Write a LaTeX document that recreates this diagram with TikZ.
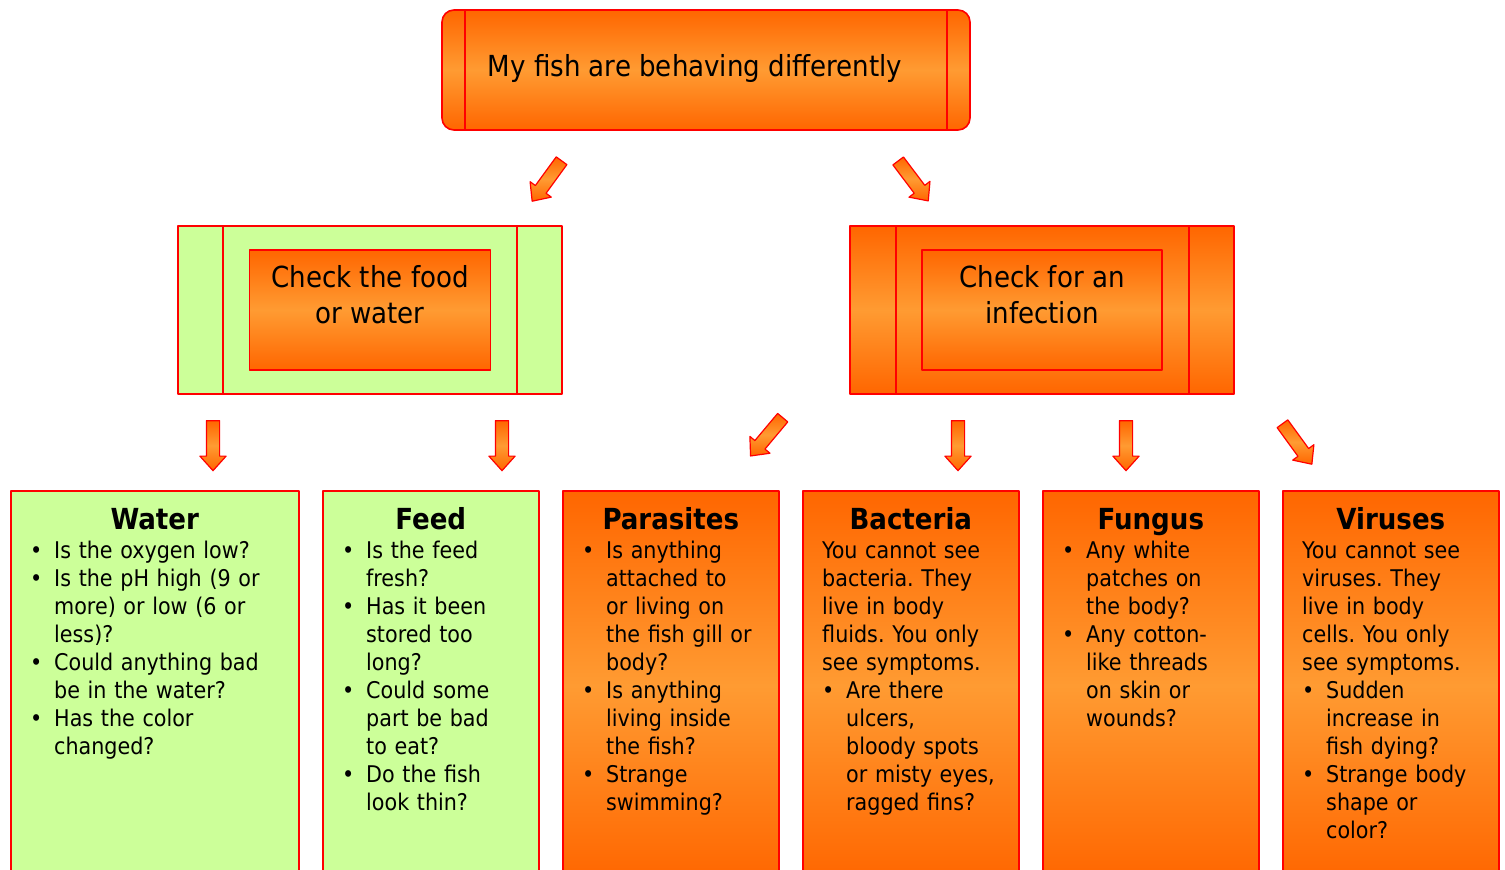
\documentclass[tikz,border=0pt]{standalone}
\usepackage{fontspec}
\setmainfont{DejaVu Sans Condensed}
\usetikzlibrary{shapes.arrows,calc}
\definecolor{deeporange}{RGB}{255,102,0}
\definecolor{lightorange}{RGB}{255,155,50}
\definecolor{leafgreen}{RGB}{204,255,153}
\frenchspacing
\newcommand{\nextline}{\newline}
\newcommand{\bul}[1]{\hangindent=24pt\hangafter=1\strut\makebox[24pt][l]{\textbullet}#1\par}

\begin{document}
\begin{tikzpicture}[x=1pt, y=-1pt, line join=round, font=\fontsize{23}{28}\selectfont]
	\tikzset{
		redline/.style={draw=red, line width=1.6pt},
		orangebox/.style={redline, top color=deeporange, bottom color=deeporange, middle color=lightorange},
		greenbox/.style={redline, fill=leafgreen},
		blockarrow/.style={single arrow, draw=red, line width=1.2pt, top color=deeporange, bottom color=deeporange, middle color=lightorange, minimum height=50pt, single arrow head extend=6.5pt, single arrow tip angle=84, inner xsep=0pt, inner ysep=6pt},
		heading/.style={anchor=base, font=\fontsize{29}{34}\selectfont\bfseries, inner sep=0pt},
		midtext/.style={align=center, inner sep=0pt, font=\fontsize{29}{36}\selectfont},
		body/.style={anchor=north west, inner sep=0pt, text width=260pt, align=left, font=\fontsize{23}{28}\selectfont\setlength\parindent{0pt}}
	}
	\useasboundingbox (0,0) rectangle (1505,870);
	\clip (0,0) rectangle (1505,870);

	% top question
	\node[orangebox, rounded corners=12pt, minimum width=528pt, minimum height=120pt] (fish) at (706,70) {};
	\draw[redline] ($(fish.north west)+(24,0)$) -- ($(fish.south west)+(24,0)$);
	\draw[redline] ($(fish.north east)+(-24,0)$) -- ($(fish.south east)+(-24,0)$);
	\node[midtext, font=\fontsize{29}{34}\selectfont] (fishtxt) at ($(fish.center)+(-11,-2)$) {My fish are behaving differently};

	% food or water
	\node[greenbox, minimum width=384pt, minimum height=168pt] (food) at (370,310) {};
	\draw[redline] ($(food.north west)+(46,0)$) -- ($(food.south west)+(46,0)$);
	\draw[redline] ($(food.north east)+(-46,0)$) -- ($(food.south east)+(-46,0)$);
	\node[orangebox, minimum width=241pt, minimum height=120pt] (foodin) at (food) {};
	\node[midtext] (foodtxt) at ($(foodin.center)+(0,-15)$) {Check the food\\or water};

	% infection
	\node[orangebox, minimum width=384pt, minimum height=168pt] (infect) at (1042,310) {};
	\draw[redline] ($(infect.north west)+(47,0)$) -- ($(infect.south west)+(47,0)$);
	\draw[redline] ($(infect.north east)+(-46,0)$) -- ($(infect.south east)+(-46,0)$);
	\node[orangebox, minimum width=240pt, minimum height=120pt] (infectin) at (infect) {};
	\node[midtext] (infecttxt) at ($(infectin.center)+(0,-15)$) {Check for an\\infection};

	% block arrows
	\node[blockarrow, rotate=-126] (a1) at (549,178) {};
	\node[blockarrow, rotate=-53] (a2) at (911,178) {};
	\node[blockarrow, rotate=-90] (a3) at (213,442) {};
	\node[blockarrow, rotate=-90] (a4) at (502,442) {};
	\node[blockarrow, rotate=-130] (a5) at (769,434) {};
	\node[blockarrow, rotate=-90] (a6) at (958,442) {};
	\node[blockarrow, rotate=-90] (a7) at (1126,442) {};
	\node[blockarrow, rotate=-54] (a8) at (1295,441) {};

	% water
	\node[greenbox, minimum width=288pt, minimum height=390pt, anchor=north west] (water) at (10,490) {};
	\node[heading] (watertitle) at ($(water.north)+(0,39)$) {Water};
	\node[body] (watertext) at ($(water.north west)+(20,49)$) {\bul{Is the oxygen low?}
		\bul{Is the pH high (9 or\nextline more) or low (6 or\nextline less)?}
		\bul{Could anything bad\nextline be in the water?}
		\bul{Has the color\nextline changed?}};

	% feed
	\node[greenbox, minimum width=216pt, minimum height=390pt, anchor=north west] (feed) at (322,490) {};
	\node[heading] (feedtitle) at ($(feed.north)+(0,39)$) {Feed};
	\node[body] (feedtext) at ($(feed.north west)+(20,49)$) {\bul{Is the feed\nextline fresh?}
		\bul{Has it been\nextline stored too\nextline long?}
		\bul{Could some\nextline part be bad\nextline to eat?}
		\bul{Do the fish\nextline look thin?}};

	% parasites
	\node[orangebox, minimum width=216pt, minimum height=390pt, anchor=north west] (parasite) at (562,490) {};
	\node[heading] (parasitetitle) at ($(parasite.north)+(0,39)$) {Parasites};
	\node[body] (parasitetext) at ($(parasite.north west)+(20,49)$) {\bul{Is anything\nextline attached to\nextline or living on\nextline the fish gill or\nextline body?}
		\bul{Is anything\nextline living inside\nextline the fish?}
		\bul{Strange\nextline swimming?}};

	% bacteria
	\node[orangebox, minimum width=216pt, minimum height=390pt, anchor=north west] (bact) at (802,490) {};
	\node[heading] (bacttitle) at ($(bact.north)+(0,39)$) {Bacteria};
	\node[body] (bacttext) at ($(bact.north west)+(20,49)$) {\strut You cannot see\nextline bacteria. They\nextline live in body\nextline fluids. You only\nextline see symptoms.\par
		\bul{Are there\nextline ulcers,\nextline bloody spots\nextline or misty eyes,\nextline ragged fins?}};

	% fungus
	\node[orangebox, minimum width=216pt, minimum height=390pt, anchor=north west] (fungus) at (1042,490) {};
	\node[heading] (fungustitle) at ($(fungus.north)+(0,39)$) {Fungus};
	\node[body] (fungustext) at ($(fungus.north west)+(20,49)$) {\bul{Any white\nextline patches on\nextline the body?}
		\bul{Any cotton-\nextline like threads\nextline on skin or\nextline wounds?}};

	% viruses
	\node[orangebox, minimum width=216pt, minimum height=390pt, anchor=north west] (virus) at (1282,490) {};
	\node[heading] (virustitle) at ($(virus.north)+(0,39)$) {Viruses};
	\node[body] (virustext) at ($(virus.north west)+(20,49)$) {\strut You cannot see\nextline viruses. They\nextline live in body\nextline cells. You only\nextline see symptoms.\par
		\bul{Sudden\nextline increase in\nextline fish dying?}
		\bul{Strange body\nextline shape or\nextline color?}};
\end{tikzpicture}
\end{document}
